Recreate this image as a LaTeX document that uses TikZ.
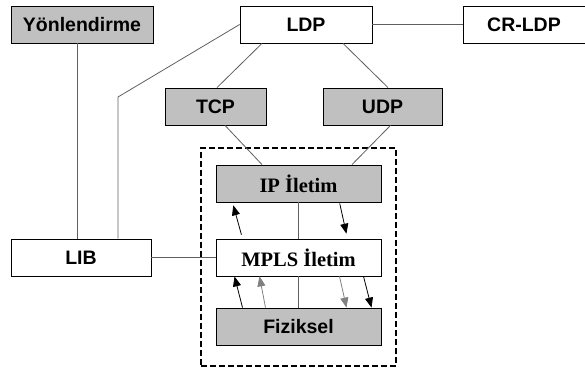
\documentclass[tikz,border=0pt]{standalone}
\usepackage{fontspec}
\setmainfont{Liberation Serif}
\setsansfont{Liberation Sans}
\usetikzlibrary{arrows.meta}
\definecolor{boxgray}{RGB}{192,192,192}
\definecolor{linegray}{RGB}{95,95,95}
\begin{document}
\begin{tikzpicture}[x=1pt, y=-1pt,
  box/.style={draw, thick, minimum height=37pt, inner sep=0pt, font=\sffamily\bfseries\fontsize{19.5}{22}\selectfont},
  gbox/.style={box, fill=boxgray},
  sbox/.style={box, font=\bfseries\fontsize{20.5}{24}\selectfont},
  conn/.style={draw=linegray, thick},
  arr/.style={-{Triangle[length=10pt,width=8pt]}, thick},
  garr/.style={arr, gray}
]
\useasboundingbox (0,0) rectangle (585,372);
\node[draw, very thick, dash pattern=on 6pt off 3pt, minimum width=195pt, minimum height=218pt] (frame) at (298.5,257) {};
\node[gbox, minimum width=142pt] (yon) at (82,24.5) {Yönlendirme};
\node[box, minimum width=132pt] (ldp) at (306,24.5) {LDP};
\node[box, minimum width=122pt] (crldp) at (524,24.5) {CR-LDP};
\node[gbox, minimum width=101pt] (tcp) at (215.5,106.5) {TCP};
\node[gbox, minimum width=119pt] (udp) at (382.5,106.5) {UDP};
\node[gbox, sbox, fill=boxgray, minimum width=165pt] (ip) at (298.5,183.5) {IP İletim};
\node[sbox, minimum width=165pt] (mpls) at (298.5,257.5) {MPLS İletim};
\node[gbox, minimum width=165pt] (phy) at (298.5,326.5) {Fiziksel};
\node[box, minimum width=140pt] (lib) at (81,257.5) {LIB};
\coordinate (bend) at (118,97);

% baglantilar
\draw[conn] ([xshift=-5pt]yon.south) -- ([xshift=-5pt]yon.south |- lib.north);
\draw[conn] (ldp.west) -- (bend) -- (bend |- lib.north);
\draw[conn] (ldp.east) -- (crldp.west);
\draw[conn] ([xshift=-44pt]ldp.south) -- ([xshift=1.5pt]tcp.north);
\draw[conn] ([xshift=37pt]ldp.south) -- ([xshift=5.5pt]udp.north);
\draw[conn] ([xshift=9.5pt]tcp.south) -- ([xshift=-36.5pt]ip.north);
\draw[conn] ([xshift=8pt]udp.south) -- ([xshift=53.5pt]ip.north);
\draw[conn] (ip.south) -- (mpls.north);
\draw[conn] (mpls.south) -- (phy.north);
\draw[conn] (lib.east) -- (mpls.west);

% oklar
\draw[arr, shorten <=4pt, shorten >=3pt] ([xshift=-56pt]mpls.north) -- ([xshift=-66pt]ip.south);
\draw[arr, shorten <=1pt, shorten >=5pt] ([xshift=41pt]ip.south) -- ([xshift=49pt]mpls.north);
\draw[arr] ([xshift=-56pt]phy.north) -- ([xshift=-64pt]mpls.south);
\draw[garr] ([xshift=-33pt]phy.north) -- ([xshift=-39pt]mpls.south);
\draw[garr] ([xshift=41pt]mpls.south) -- ([xshift=48pt]phy.north);
\draw[arr] ([xshift=65pt]mpls.south) -- ([xshift=73pt]phy.north);
\end{tikzpicture}
\end{document}
